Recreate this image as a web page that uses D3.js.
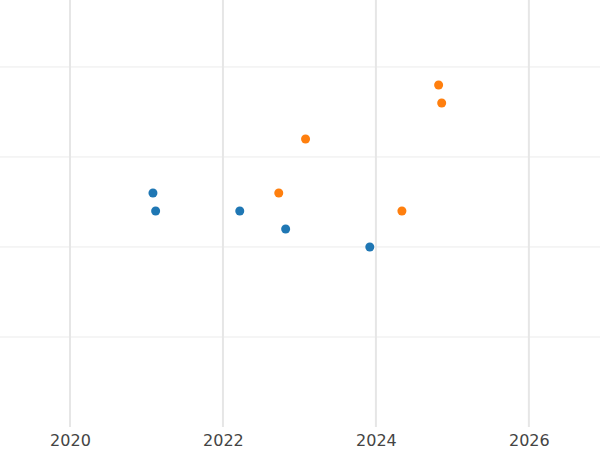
<!DOCTYPE html>
<html><head><meta charset="utf-8">
<script src="https://cdn.jsdelivr.net/npm/d3@7"></script>
<style>body{margin:0;background:#fff}</style>
</head><body><div id="chart"></div>
<script>
var blueX = [2021.085, 2021.12, 2022.22, 2022.82, 2023.92];
var blueY = [13, 12, 12, 11, 10];
var orangeX = [2024.82, 2024.86, 2023.08, 2022.73, 2024.34];
var orangeY = [19, 18, 16, 13, 12];
var xTicks = [2020, 2022, 2024, 2026];
var yTicks = [5, 10, 15, 20];

var width = 600, height = 450;
var svg = d3.select("#chart").append("svg")
	.attr("width", width).attr("height", height);

var x = d3.scaleLinear().domain([2019.085, 2026.93]).range([0, 600]);
var y = d3.scaleLinear().domain([0, 23.72]).range([427, 0]);

// gridlines
svg.selectAll(".hg").data(yTicks).enter().append("line")
	.attr("x1", 0).attr("x2", width)
	.attr("y1", function(d){return y(d)}).attr("y2", function(d){return y(d)})
	.attr("stroke", "#ebebeb").attr("stroke-width", 1);
svg.selectAll(".vg").data(xTicks).enter().append("line")
	.attr("y1", 0).attr("y2", 427)
	.attr("x1", function(d){return x(d)}).attr("x2", function(d){return x(d)})
	.attr("stroke", "#e6e6e6").attr("stroke-width", 2);

var xAxis = svg.append("g").attr("transform", "translate(0,427)")
	.call(d3.axisBottom(x).tickValues(xTicks).tickFormat(d3.format("d")).tickSize(0).tickPadding(8));
xAxis.select(".domain").remove();
xAxis.selectAll("text").attr("font-family", "DejaVu Sans").attr("font-size", 16).attr("fill", "#444");

function dots(xs, ys, color) {
	svg.selectAll(null).data(xs).enter().append("circle")
		.attr("cx", function(d){return x(d)})
		.attr("cy", function(d, i){return y(ys[i])})
		.attr("r", 4.5).attr("fill", color);
}
dots(blueX, blueY, "#1f77b4");
dots(orangeX, orangeY, "#ff7f0e");
</script></body></html>
